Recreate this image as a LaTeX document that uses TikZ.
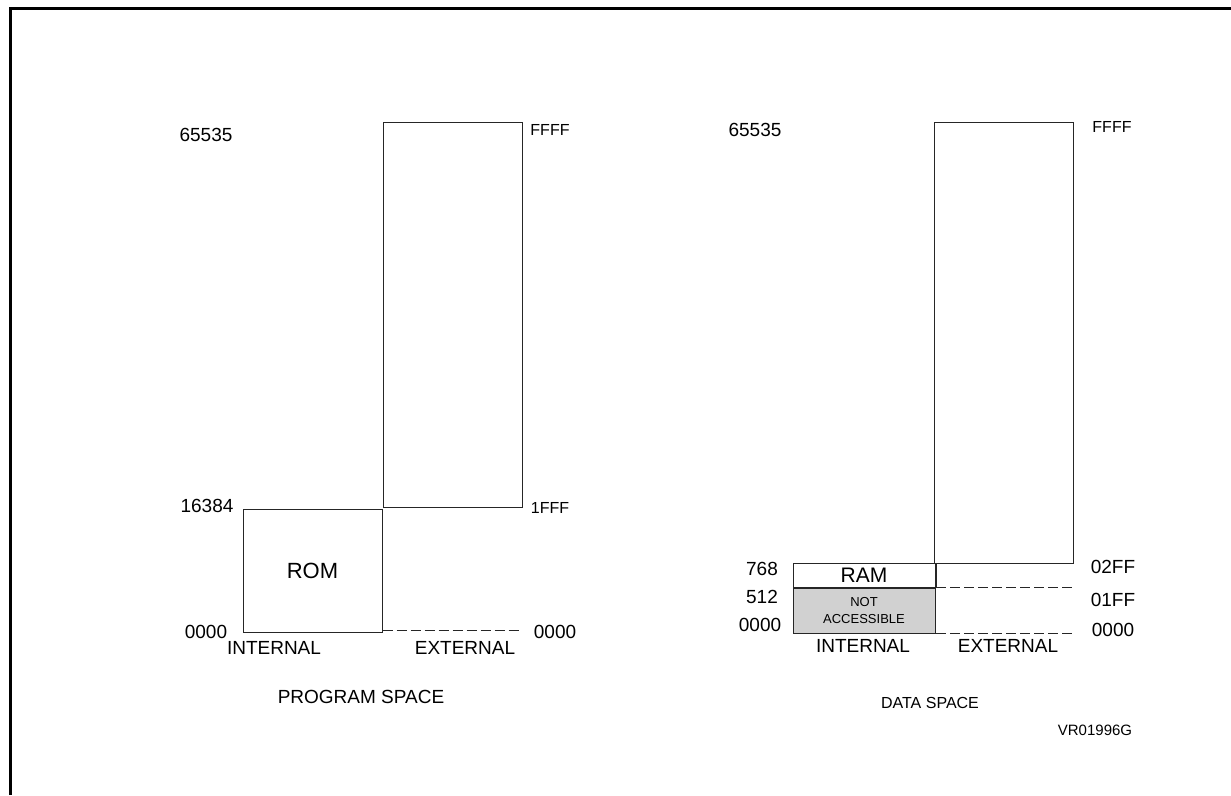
\documentclass[tikz,border=0pt]{standalone}
\usepackage{fontspec}
\setmainfont{Liberation Sans}
\usetikzlibrary{positioning}
\tikzset{
    membox/.style={draw=black!85, line width=1pt, inner sep=0pt},
    shadedbox/.style={membox, fill=black!18},
    addrlbl/.style={inner sep=0pt, font=\fontsize{19}{22}\selectfont},
    hexlbl/.style={inner sep=0pt, font=\fontsize{16}{19}\selectfont},
    titlelbl/.style={inner sep=0pt, font=\fontsize{19}{22}\selectfont},
    dashline/.style={draw=black!85, line width=1pt, dash pattern=on 10pt off 4pt},
}

\begin{document}
\begin{tikzpicture}[x=1pt, y=-1pt]
    \useasboundingbox (0,0) rectangle (1231,795);
    % frame
    \draw[line width=3pt] (10.5,795) -- (10.5,8) -- (1231,8);

    % program space
    \node (progext) [membox, minimum width=139pt, minimum height=385pt] at (452.5,314.5) {};
    \node (rom) [membox, minimum width=139pt, minimum height=123pt,
        font=\fontsize{22}{26}\selectfont] at (312.5,570.5) {ROM};
    \coordinate (progend) at (522,630);
    \draw[dashline] (rom.south east |- progend) -- (progend);

    \node (p65535) [addrlbl] at (206,135) {65535};
    \node (p16384) [addrlbl] at (207,506) {16384};
    \node (p0000) [addrlbl] at (206,632) {0000};
    \node (pFFFF) [hexlbl] at (550,130) {FFFF};
    \node (p1FFF) [hexlbl] at (550,508) {1FFF};
    \node (p0000x) [addrlbl] at (555,632) {0000};
    \node (pint) [addrlbl] at (274,648) {INTERNAL};
    \node (pext) [addrlbl] at (465,648) {EXTERNAL};
    \node (ptitle) [titlelbl] at (361,697) {PROGRAM SPACE};

    % data space
    \node (dataext) [membox, minimum width=139pt, minimum height=441pt] at (1003.5,342.5) {};
    \node (ram) [membox, minimum width=142pt, minimum height=24pt,
        font=\fontsize{21}{24}\selectfont] at (864,575) {RAM};
    \node (notacc) [shadedbox, below=0pt of ram, minimum width=142pt, minimum height=45pt,
        align=center, font=\fontsize{13}{17}\selectfont] {NOT\\ACCESSIBLE};
    \coordinate (split) at (936,587);
    \coordinate (splitend) at (1073,587);
    \coordinate (baseend) at (1073,633);
    \draw[membox] (dataext.south west -| split) -- (split);
    \draw[dashline] (split) -- (splitend);
    \draw[dashline] (split |- baseend) -- (baseend);

    \node (d65535) [addrlbl] at (755,130) {65535};
    \node (d768) [addrlbl] at (762,569) {768};
    \node (d512) [addrlbl] at (762,597) {512};
    \node (d0000) [addrlbl] at (760,625) {0000};
    \node (dFFFF) [hexlbl] at (1112,127) {FFFF};
    \node (d02FF) [addrlbl] at (1113,567) {02FF};
    \node (d01FF) [addrlbl] at (1113,600) {01FF};
    \node (d0000x) [addrlbl] at (1113,630) {0000};
    \node (dint) [addrlbl] at (863,646) {INTERNAL};
    \node (dext) [addrlbl] at (1008,646) {EXTERNAL};
    \node (dtitle) [hexlbl] at (930,703) {DATA SPACE};
    \node (figid) [inner sep=0pt, font=\fontsize{15}{18}\selectfont] at (1095,730) {VR01996G};
\end{tikzpicture}
\end{document}
